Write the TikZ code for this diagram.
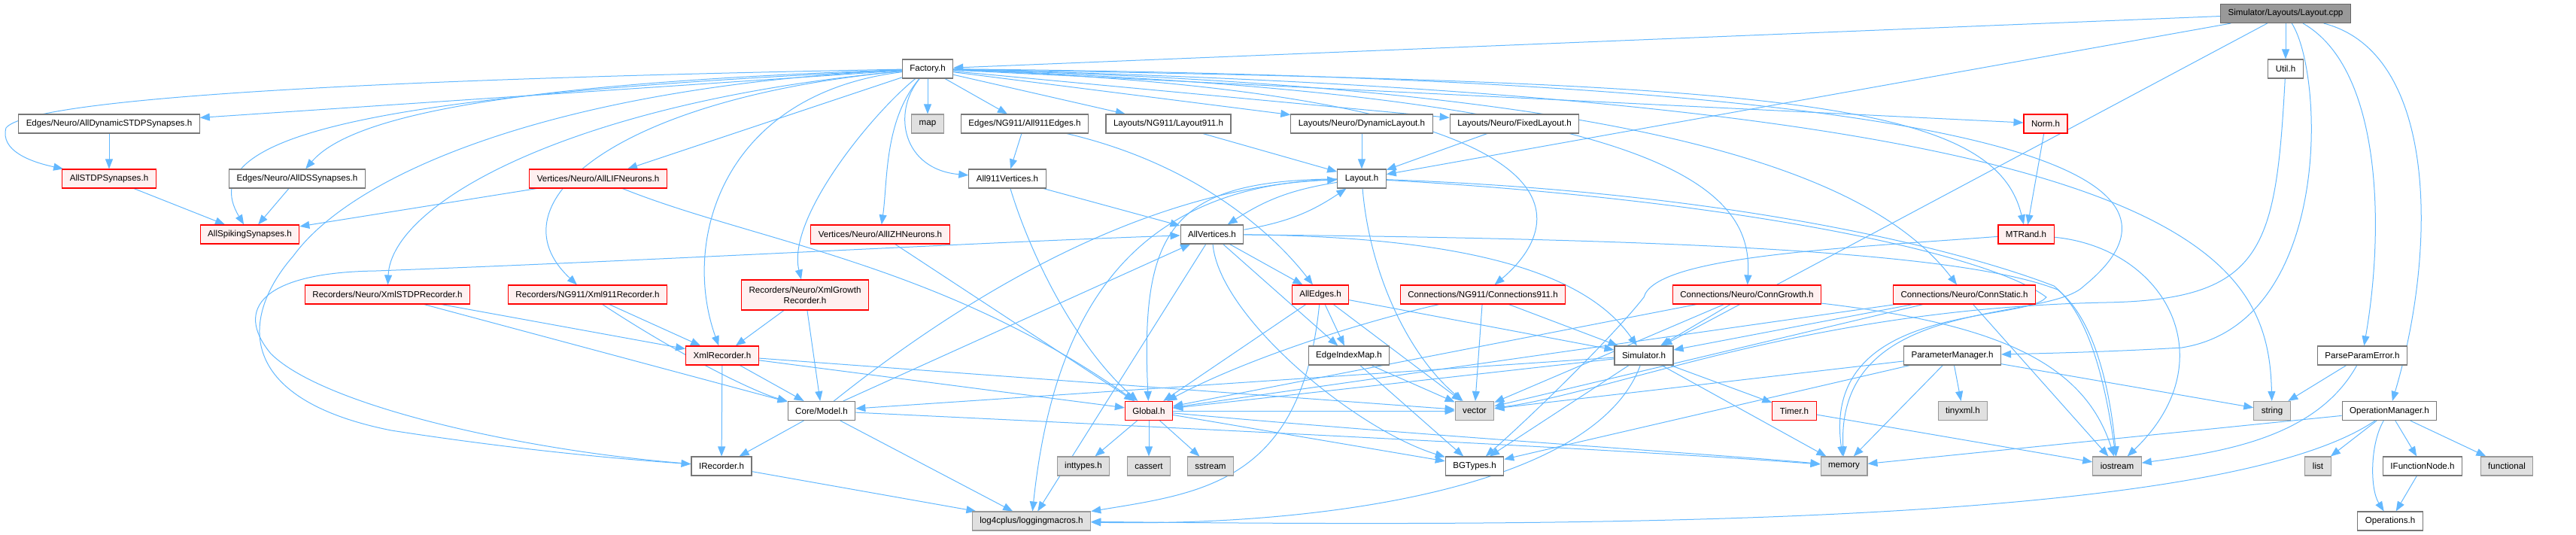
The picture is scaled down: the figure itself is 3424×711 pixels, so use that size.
\documentclass[tikz,border=0pt]{standalone}
\usepackage{fontspec}
\setmainfont{Liberation Sans}
\usetikzlibrary{arrows.meta,backgrounds}
\definecolor{edgec}{HTML}{63B8FF}
\definecolor{plainb}{HTML}{777777}
\definecolor{sysb}{HTML}{999999}
\definecolor{sysf}{HTML}{E0E0E0}
\definecolor{truncf}{HTML}{FFF0F0}
\definecolor{rootf}{HTML}{999999}
\definecolor{rootb}{HTML}{666666}
\begin{document}
\begin{tikzpicture}[x=1pt,y=-1pt,
 every node/.style={font=\fontsize{11.6}{14}\selectfont, inner xsep=10pt, inner ysep=0pt, minimum height=25pt, line width=1.1pt},
 plain/.style={draw=plainb, fill=white},
 sys/.style={draw=sysb, fill=sysf},
 trunc/.style={draw=red, fill=truncf},
 root/.style={draw=rootb, fill=rootf},
 e/.style={draw=edgec, line width=1pt, -{Triangle[length=13pt,width=10pt]}}
]
\useasboundingbox (0,0) rectangle (3424,711);
\node[root] (cpp) at (3038,18) {Simulator/Layouts/Layout.cpp};
\node[plain] (factory) at (1233,91.5) {Factory.h};
\node[plain] (util) at (3038,91.5) {Util.h};
\node[plain] (dynstdp) at (145,164.5) {Edges/Neuro/AllDynamicSTDPSynapses.h};
\node[sys] (map) at (1233,164.5) {map};
\node[plain] (a911e) at (1362,164.5) {Edges/NG911/All911Edges.h};
\node[plain] (l911) at (1553,164.5) {Layouts/NG911/Layout911.h};
\node[plain] (dynlay) at (1810,164.5) {Layouts/Neuro/DynamicLayout.h};
\node[plain] (fixlay) at (2013,164.5) {Layouts/Neuro/FixedLayout.h};
\node[trunc] (norm) at (2719,164.5) {Norm.h};
\node[trunc] (stdp) at (145,237.5) {AllSTDPSynapses.h};
\node[plain] (ds) at (395,237.5) {Edges/Neuro/AllDSSynapses.h};
\node[trunc] (lif) at (795,237.5) {Vertices/Neuro/AllLIFNeurons.h};
\node[plain] (a911v) at (1339,237.5) {All911Vertices.h};
\node[plain] (layout) at (1810,237.5) {Layout.h};
\node[trunc] (spiking) at (332,311.5) {AllSpikingSynapses.h};
\node[trunc] (izh) at (1170,311.5) {Vertices/Neuro/AllIZHNeurons.h};
\node[plain] (allv) at (1611,311.5) {AllVertices.h};
\node[trunc] (mtrand) at (2693,311.5) {MTRand.h};
\node[trunc] (xstdp) at (515,391.5) {Recorders/Neuro/XmlSTDPRecorder.h};
\node[trunc] (x911) at (781,391.5) {Recorders/NG911/Xml911Recorder.h};
\node[trunc, align=center, minimum height=40pt] (xgrowth) at (1070,392) {Recorders/Neuro/XmlGrowth\\Recorder.h};
\node[trunc] (alle) at (1755,391.5) {AllEdges.h};
\node[trunc] (c911) at (1971,391.5) {Connections/NG911/Connections911.h};
\node[trunc] (cgrowth) at (2322,391.5) {Connections/Neuro/ConnGrowth.h};
\node[trunc] (cstatic) at (2611,391.5) {Connections/Neuro/ConnStatic.h};
\node[trunc] (xmlrec) at (960,472.5) {XmlRecorder.h};
\node[plain] (eim) at (1793,472.5) {EdgeIndexMap.h};
\node[plain] (sim) at (2185,472.5) {Simulator.h};
\node[plain] (pm) at (2595,472.5) {ParameterManager.h};
\node[plain] (ppe) at (3140,472.5) {ParseParamError.h};
\node[plain] (model) at (1092,546) {Core/Model.h};
\node[trunc] (global) at (1527,546) {Global.h};
\node[sys] (vector) at (1960,546) {vector};
\node[trunc] (timer) at (2385,546) {Timer.h};
\node[sys] (tinyxml) at (2609,546) {tinyxml.h};
\node[sys] (string) at (3020,546) {string};
\node[plain] (opm) at (3176,546) {OperationManager.h};
\node[plain] (irec) at (959,619.5) {IRecorder.h};
\node[sys] (inttypes) at (1440,619.5) {inttypes.h};
\node[sys] (cassert) at (1527,619.5) {cassert};
\node[sys] (sstream) at (1609,619.5) {sstream};
\node[plain] (bgtypes) at (1960,619.5) {BGTypes.h};
\node[sys] (memory) at (2451,619.5) {memory};
\node[sys] (iostream) at (2814,619.5) {iostream};
\node[sys] (list) at (3081,619.5) {list};
\node[plain] (ifn) at (3220,619.5) {IFunctionNode.h};
\node[sys] (functional) at (3332,619.5) {functional};
\node[sys] (log4) at (1371,692.5) {log4cplus/loggingmacros.h};
\node[plain] (ops) at (3177,692.5) {Operations.h};
\begin{scope}[on background layer]
% Layout.cpp
\draw[e] (cpp) -- (factory);
\draw[e] (cpp) -- (layout);
\draw[e] (cpp) -- (sim);
\draw[e] (cpp) -- (util);
\draw[e] (cpp) .. controls (3090,100) and (3100,430) .. (2900,462) .. controls (2800,468) and (2700,470) .. (pm);
\draw[e] (cpp) .. controls (3165,90) and (3170,300) .. (ppe);
\draw[e] (cpp) .. controls (3240,70) and (3240,330) .. (opm);
% Factory.h
\draw[e] (factory) -- (dynstdp);
\draw[e] (factory) .. controls (500,105) and (40,130) .. (8,170) .. controls (0,200) and (40,215) .. (stdp);
\draw[e] (factory) .. controls (700,110) and (470,150) .. (ds);
\draw[e] (factory) .. controls (520,125) and (250,175) .. (spiking);
\draw[e] (factory) -- (map);
\draw[e] (factory) -- (a911e);
\draw[e] (factory) .. controls (1185,150) and (1200,225) .. (a911v);
\draw[e] (factory) -- (lif);
\draw[e] (factory) .. controls (1175,160) and (1180,240) .. (izh);
\draw[e] (factory) -- (l911);
\draw[e] (factory) -- (dynlay);
\draw[e] (factory) -- (fixlay);
\draw[e] (factory) -- (norm);
\draw[e] (factory) .. controls (2350,110) and (2650,130) .. (mtrand);
\draw[e] (factory) .. controls (2900,130) and (3015,330) .. (string);
\draw[e] (factory) .. controls (2780,105) and (2930,250) .. (2770,380) .. controls (2720,430) and (2440,390) .. (memory);
\draw[e] (factory) .. controls (2150,125) and (2080,300) .. (c911);
\draw[e] (factory) .. controls (2220,125) and (2330,250) .. (cgrowth);
\draw[e] (factory) .. controls (2150,115) and (2480,220) .. (cstatic);
\draw[e] (factory) .. controls (760,135) and (520,270) .. (xstdp);
\draw[e] (factory) .. controls (820,130) and (650,270) .. (x911);
\draw[e] (factory) .. controls (960,125) and (905,320) .. (xmlrec);
\draw[e] (factory) .. controls (1160,150) and (1045,290) .. (xgrowth);
\draw[e] (factory) .. controls (740,115) and (470,230) .. (390,340) .. controls (320,420) and (310,530) .. (520,572) .. controls (700,600) and (850,612) .. (irec);
% IRecorder.h
\draw[e] (irec) .. controls (700,600) and (430,540) .. (360,470) .. controls (310,410) and (350,362) .. (500,360) .. controls (900,345) and (1300,322) .. (allv);
\draw[e] (irec) -- (log4);
% Util.h
\draw[e] (util) .. controls (3025,330) and (3010,398) .. (2800,402) .. controls (2400,410) and (2150,520) .. (vector);
% synapses / neurons
\draw[e] (dynstdp) -- (stdp);
\draw[e] (stdp) -- (spiking);
\draw[e] (ds) -- (spiking);
\draw[e] (lif) -- (spiking);
\draw[e] (lif) .. controls (1000,320) and (1250,350) .. (global);
\draw[e] (izh) -- (global);
\draw[e] (a911e) -- (a911v);
\draw[e] (a911e) .. controls (1600,220) and (1700,320) .. (alle);
\draw[e] (a911v) -- (allv);
\draw[e] (a911v) .. controls (1370,340) and (1430,460) .. (global);
% layouts
\draw[e] (l911) -- (layout);
\draw[e] (dynlay) -- (layout);
\draw[e] (fixlay) -- (layout);
\draw[e] (norm) -- (mtrand);
\draw[e] (mtrand) .. controls (2450,330) and (2200,340) .. (2185,395) .. controls (2150,440) and (2050,540) .. (bgtypes);
\draw[e] (mtrand) .. controls (2880,330) and (2960,480) .. (iostream);
% Layout.h
\draw[e] (layout) to[bend right=12] (allv);
\draw[e] (allv) to[bend right=12] (layout);
\draw[e] (layout) .. controls (1560,240) and (1515,300) .. (global);
\draw[e] (layout) .. controls (1500,245) and (1400,420) .. (log4);
\draw[e] (layout) .. controls (1820,360) and (1870,470) .. (vector);
\draw[e] (layout) .. controls (2300,255) and (2600,330) .. (2730,380) .. controls (2780,420) and (2800,520) .. (iostream);
\draw[e] (layout) .. controls (2300,265) and (2640,335) .. (2720,395) .. controls (2690,430) and (2420,400) .. (memory);
% Core/Model.h
\draw[e] (model) .. controls (1250,420) and (1500,250) .. (layout);
\draw[e] (model) -- (allv);
\draw[e] (model) -- (irec);
\draw[e] (model) -- (log4);
\draw[e] (model) .. controls (1700,575) and (2200,600) .. (memory);
% recorders
\draw[e] (xstdp) -- (xmlrec);
\draw[e] (xstdp) -- (model);
\draw[e] (x911) -- (xmlrec);
\draw[e] (x911) .. controls (900,470) and (1000,520) .. (model);
\draw[e] (xgrowth) -- (xmlrec);
\draw[e] (xgrowth) -- (model);
\draw[e] (xmlrec) -- (irec);
\draw[e] (xmlrec) -- (model);
\draw[e] (xmlrec) -- (global);
\draw[e] (xmlrec) -- (vector);
% AllVertices.h
\draw[e] (allv) -- (log4);
\draw[e] (allv) -- (alle);
\draw[e] (allv) -- (eim);
\draw[e] (allv) .. controls (2000,315) and (2120,380) .. (sim);
\draw[e] (allv) .. controls (1620,420) and (1800,570) .. (bgtypes);
\draw[e] (allv) .. controls (2300,318) and (2620,340) .. (2735,385) .. controls (2785,425) and (2805,520) .. (iostream);
% AllEdges.h
\draw[e] (alle) -- (global);
\draw[e] (alle) .. controls (1730,640) and (1600,655) .. (log4);
\draw[e] (alle) -- (eim);
\draw[e] (alle) -- (vector);
\draw[e] (alle) -- (sim);
\draw[e] (eim) -- (vector);
\draw[e] (eim) -- (bgtypes);
% connections
\draw[e] (c911) .. controls (1800,430) and (1650,480) .. (global);
\draw[e] (c911) -- (vector);
\draw[e] (c911) -- (sim);
\draw[e] (cgrowth) -- (sim);
\draw[e] (cgrowth) -- (global);
\draw[e] (cgrowth) -- (vector);
\draw[e] (cgrowth) .. controls (2650,430) and (2770,480) .. (iostream);
\draw[e] (cstatic) -- (sim);
\draw[e] (cstatic) -- (global);
\draw[e] (cstatic) -- (vector);
\draw[e] (cstatic) -- (iostream);
% Simulator.h
\draw[e] (sim) -- (model);
\draw[e] (sim) -- (global);
\draw[e] (sim) -- (bgtypes);
\draw[e] (sim) .. controls (2120,650) and (1750,700) .. (log4);
\draw[e] (sim) -- (timer);
\draw[e] (sim) -- (memory);
% ParameterManager.h
\draw[e] (pm) -- (vector);
\draw[e] (pm) -- (bgtypes);
\draw[e] (pm) -- (memory);
\draw[e] (pm) -- (tinyxml);
\draw[e] (pm) -- (string);
\draw[e] (timer) -- (iostream);
\draw[e] (ppe) -- (string);
\draw[e] (ppe) .. controls (3080,580) and (2960,600) .. (iostream);
% OperationManager.h
\draw[e] (opm) -- (memory);
\draw[e] (opm) .. controls (2950,700) and (2100,700) .. (log4);
\draw[e] (opm) -- (list);
\draw[e] (opm) -- (ifn);
\draw[e] (opm) -- (functional);
\draw[e] (opm) .. controls (3150,590) and (3150,650) .. (ops);
\draw[e] (ifn) -- (ops);
% Global.h
\draw[e] (global) -- (inttypes);
\draw[e] (global) -- (cassert);
\draw[e] (global) -- (sstream);
\draw[e] (global) -- (vector);
\draw[e] (global) -- (bgtypes);
\draw[e] (global) .. controls (1900,580) and (2300,605) .. (memory);
\end{scope}
\end{tikzpicture}
\end{document}
